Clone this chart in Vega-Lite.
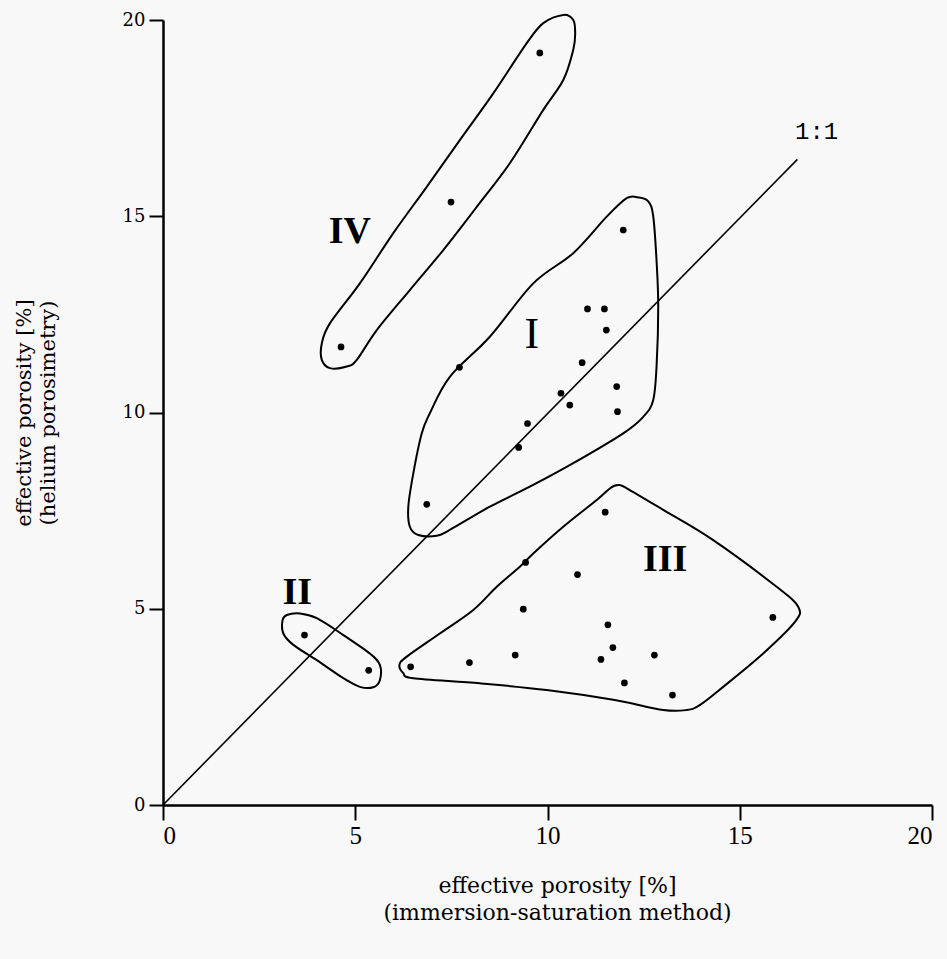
{
  "$schema": "https://vega.github.io/schema/vega-lite/v6.json",
  "width": 769,
  "height": 785,
  "autosize": {"type": "none"},
  "padding": {"left": 163, "top": 20, "right": 15, "bottom": 154},
  "background": "#f8f8f8",
  "config": {"view": {"stroke": null}},
  "datasets": {
    "pts": [
      {"g": "IV", "x": 9.80, "y": 19.16},
      {"g": "IV", "x": 7.49, "y": 15.36},
      {"g": "IV", "x": 4.63, "y": 11.67},
      {"g": "I", "x": 11.97, "y": 14.65},
      {"g": "I", "x": 11.04, "y": 12.64},
      {"g": "I", "x": 11.48, "y": 12.64},
      {"g": "I", "x": 11.53, "y": 12.10},
      {"g": "I", "x": 7.71, "y": 11.15},
      {"g": "I", "x": 10.90, "y": 11.27},
      {"g": "I", "x": 11.80, "y": 10.66},
      {"g": "I", "x": 10.35, "y": 10.49},
      {"g": "I", "x": 10.58, "y": 10.19},
      {"g": "I", "x": 11.82, "y": 10.02},
      {"g": "I", "x": 9.48, "y": 9.72},
      {"g": "I", "x": 9.25, "y": 9.11},
      {"g": "I", "x": 6.86, "y": 7.66},
      {"g": "III", "x": 11.50, "y": 7.46},
      {"g": "III", "x": 9.43, "y": 6.18},
      {"g": "III", "x": 10.78, "y": 5.87},
      {"g": "III", "x": 9.37, "y": 4.99},
      {"g": "III", "x": 15.86, "y": 4.78},
      {"g": "III", "x": 11.57, "y": 4.59},
      {"g": "III", "x": 11.70, "y": 4.01},
      {"g": "III", "x": 11.39, "y": 3.71},
      {"g": "III", "x": 9.16, "y": 3.82},
      {"g": "III", "x": 12.78, "y": 3.82},
      {"g": "III", "x": 7.97, "y": 3.63},
      {"g": "III", "x": 6.44, "y": 3.52},
      {"g": "III", "x": 12.00, "y": 3.11},
      {"g": "III", "x": 13.25, "y": 2.80},
      {"g": "II", "x": 3.68, "y": 4.33},
      {"g": "II", "x": 5.35, "y": 3.43}
    ],
    "hull": [
      {"g": "I", "o": 1, "x": 12.06, "y": 15.46},
      {"g": "I", "o": 2, "x": 12.36, "y": 15.48},
      {"g": "I", "o": 3, "x": 12.62, "y": 15.38},
      {"g": "I", "o": 4, "x": 12.75, "y": 15.0},
      {"g": "I", "o": 5, "x": 12.84, "y": 13.80},
      {"g": "I", "o": 6, "x": 12.88, "y": 12.70},
      {"g": "I", "o": 7, "x": 12.84, "y": 11.25},
      {"g": "I", "o": 8, "x": 12.75, "y": 10.32},
      {"g": "I", "o": 9, "x": 12.49, "y": 9.89},
      {"g": "I", "o": 10, "x": 11.97, "y": 9.47},
      {"g": "I", "o": 11, "x": 10.67, "y": 8.71},
      {"g": "I", "o": 12, "x": 9.54, "y": 8.11},
      {"g": "I", "o": 13, "x": 8.50, "y": 7.60},
      {"g": "I", "o": 14, "x": 7.46, "y": 7.01},
      {"g": "I", "o": 15, "x": 7.12, "y": 6.86},
      {"g": "I", "o": 16, "x": 6.64, "y": 6.88},
      {"g": "I", "o": 17, "x": 6.42, "y": 7.09},
      {"g": "I", "o": 18, "x": 6.38, "y": 7.60},
      {"g": "I", "o": 19, "x": 6.51, "y": 8.45},
      {"g": "I", "o": 20, "x": 6.73, "y": 9.47},
      {"g": "I", "o": 21, "x": 6.94, "y": 9.98},
      {"g": "I", "o": 22, "x": 7.46, "y": 10.91},
      {"g": "I", "o": 23, "x": 8.50, "y": 11.93},
      {"g": "I", "o": 24, "x": 9.63, "y": 13.29},
      {"g": "I", "o": 25, "x": 10.67, "y": 14.06},
      {"g": "I", "o": 26, "x": 11.54, "y": 14.99},
      {"g": "III", "o": 1, "x": 11.84, "y": 8.15},
      {"g": "III", "o": 2, "x": 12.06, "y": 8.07},
      {"g": "III", "o": 3, "x": 13.01, "y": 7.52},
      {"g": "III", "o": 4, "x": 14.31, "y": 6.75},
      {"g": "III", "o": 5, "x": 15.96, "y": 5.56},
      {"g": "III", "o": 6, "x": 16.52, "y": 5.05},
      {"g": "III", "o": 7, "x": 16.44, "y": 4.67},
      {"g": "III", "o": 8, "x": 15.61, "y": 3.86},
      {"g": "III", "o": 9, "x": 14.57, "y": 3.01},
      {"g": "III", "o": 10, "x": 13.97, "y": 2.55},
      {"g": "III", "o": 11, "x": 13.62, "y": 2.42},
      {"g": "III", "o": 12, "x": 13.01, "y": 2.42},
      {"g": "III", "o": 13, "x": 11.71, "y": 2.68},
      {"g": "III", "o": 14, "x": 9.98, "y": 2.93},
      {"g": "III", "o": 15, "x": 8.24, "y": 3.10},
      {"g": "III", "o": 16, "x": 6.51, "y": 3.23},
      {"g": "III", "o": 17, "x": 6.25, "y": 3.36},
      {"g": "III", "o": 18, "x": 6.15, "y": 3.57},
      {"g": "III", "o": 19, "x": 6.34, "y": 3.78},
      {"g": "III", "o": 20, "x": 7.20, "y": 4.37},
      {"g": "III", "o": 21, "x": 8.07, "y": 4.97},
      {"g": "III", "o": 22, "x": 8.68, "y": 5.56},
      {"g": "III", "o": 23, "x": 9.28, "y": 6.07},
      {"g": "III", "o": 24, "x": 9.63, "y": 6.41},
      {"g": "III", "o": 25, "x": 10.41, "y": 7.09},
      {"g": "III", "o": 26, "x": 11.28, "y": 7.77},
      {"g": "III", "o": 27, "x": 11.63, "y": 8.07},
      {"g": "IV", "o": 1, "x": 10.41, "y": 20.13},
      {"g": "IV", "o": 2, "x": 10.67, "y": 20.0},
      {"g": "IV", "o": 3, "x": 10.72, "y": 19.66},
      {"g": "IV", "o": 4, "x": 10.67, "y": 19.24},
      {"g": "IV", "o": 5, "x": 10.41, "y": 18.47},
      {"g": "IV", "o": 6, "x": 9.89, "y": 17.71},
      {"g": "IV", "o": 7, "x": 9.02, "y": 16.35},
      {"g": "IV", "o": 8, "x": 8.16, "y": 15.24},
      {"g": "IV", "o": 9, "x": 7.29, "y": 14.14},
      {"g": "IV", "o": 10, "x": 6.42, "y": 13.12},
      {"g": "IV", "o": 11, "x": 5.56, "y": 12.10},
      {"g": "IV", "o": 12, "x": 5.04, "y": 11.34},
      {"g": "IV", "o": 13, "x": 4.78, "y": 11.17},
      {"g": "IV", "o": 14, "x": 4.34, "y": 11.13},
      {"g": "IV", "o": 15, "x": 4.13, "y": 11.34},
      {"g": "IV", "o": 16, "x": 4.13, "y": 11.76},
      {"g": "IV", "o": 17, "x": 4.34, "y": 12.27},
      {"g": "IV", "o": 18, "x": 5.12, "y": 13.29},
      {"g": "IV", "o": 19, "x": 5.99, "y": 14.57},
      {"g": "IV", "o": 20, "x": 6.86, "y": 15.75},
      {"g": "IV", "o": 21, "x": 7.72, "y": 16.94},
      {"g": "IV", "o": 22, "x": 8.59, "y": 18.13},
      {"g": "IV", "o": 23, "x": 9.46, "y": 19.41},
      {"g": "IV", "o": 24, "x": 9.89, "y": 19.92},
      {"g": "II", "o": 1, "x": 3.22, "y": 4.84},
      {"g": "II", "o": 2, "x": 3.56, "y": 4.88},
      {"g": "II", "o": 3, "x": 4.00, "y": 4.76},
      {"g": "II", "o": 4, "x": 4.69, "y": 4.33},
      {"g": "II", "o": 5, "x": 5.38, "y": 3.86},
      {"g": "II", "o": 6, "x": 5.64, "y": 3.57},
      {"g": "II", "o": 7, "x": 5.64, "y": 3.18},
      {"g": "II", "o": 8, "x": 5.47, "y": 3.00},
      {"g": "II", "o": 9, "x": 5.12, "y": 3.01},
      {"g": "II", "o": 10, "x": 4.69, "y": 3.23},
      {"g": "II", "o": 11, "x": 4.00, "y": 3.69},
      {"g": "II", "o": 12, "x": 3.39, "y": 4.08},
      {"g": "II", "o": 13, "x": 3.13, "y": 4.37},
      {"g": "II", "o": 14, "x": 3.11, "y": 4.71}
    ],
    "boldLabels": [
      {"t": "IV", "x": 4.86, "y": 14.6},
      {"t": "III", "x": 13.06, "y": 6.24},
      {"t": "II", "x": 3.49, "y": 5.39}
    ],
    "regLabels": [
      {"t": "I", "x": 9.59, "y": 11.97}
    ],
    "oneone": [
      {"x": 0, "y": 0},
      {"x": 16.5, "y": 16.45}
    ],
    "oneLabel": [
      {"t": "1:1", "x": 17.0, "y": 17.15}
    ]
  },
  "encoding": {
    "x": {
      "field": "x", "type": "quantitative",
      "scale": {"domain": [0, 20], "nice": false, "zero": false},
      "axis": {
        "values": [0, 5, 10, 15, 20],
        "grid": false,
        "domainColor": "#000", "domainWidth": 2.5,
        "tickColor": "#000", "tickWidth": 2, "tickSize": 15,
        "labelFont": "Liberation Serif", "labelFontSize": 25, "labelColor": "#000",
        "labelPadding": 3,
        "title": ["effective porosity [%]", "(immersion-saturation method)"],
        "titleFont": "DejaVu Serif", "titleFontSize": 22, "titleFontWeight": "normal",
        "titleColor": "#000", "titleLineHeight": 27, "titlePadding": 27,
        "titleX": 394
      }
    },
    "y": {
      "field": "y", "type": "quantitative",
      "scale": {"domain": [0, 20], "nice": false, "zero": false},
      "axis": {
        "values": [0, 5, 10, 15, 20],
        "grid": false,
        "domainColor": "#000", "domainWidth": 2.5,
        "tickColor": "#000", "tickWidth": 2, "tickSize": 14,
        "labelFont": "DejaVu Serif", "labelFontSize": 18, "labelColor": "#000",
        "labelPadding": 4,
        "title": ["effective porosity [%]", "(helium porosimetry)"],
        "titleFont": "DejaVu Serif", "titleFontSize": 21, "titleFontWeight": "normal",
        "titleColor": "#000", "titleLineHeight": 24, "titlePadding": 64
      }
    }
  },
  "layer": [
    {
      "data": {"name": "oneone"},
      "mark": {"type": "line", "color": "#000", "strokeWidth": 1.6},
      "encoding": {}
    },
    {
      "data": {"name": "hull"},
      "mark": {"type": "line", "color": "#000", "strokeWidth": 2, "interpolate": "cardinal-closed"},
      "encoding": {
        "detail": {"field": "g"},
        "order": {"field": "o", "type": "quantitative"}
      }
    },
    {
      "data": {"name": "pts"},
      "mark": {"type": "point", "shape": "circle", "filled": true, "color": "#000", "size": 45, "opacity": 1}
    },
    {
      "data": {"name": "boldLabels"},
      "mark": {"type": "text", "font": "Liberation Serif", "fontSize": 38, "fontWeight": "bold", "color": "#000"},
      "encoding": {"text": {"field": "t"}}
    },
    {
      "data": {"name": "regLabels"},
      "mark": {"type": "text", "font": "Liberation Serif", "fontSize": 44, "fontWeight": "normal", "color": "#000"},
      "encoding": {"text": {"field": "t"}}
    },
    {
      "data": {"name": "oneLabel"},
      "mark": {"type": "text", "font": "Liberation Mono", "fontSize": 24, "color": "#000"},
      "encoding": {"text": {"field": "t"}}
    }
  ]
}
